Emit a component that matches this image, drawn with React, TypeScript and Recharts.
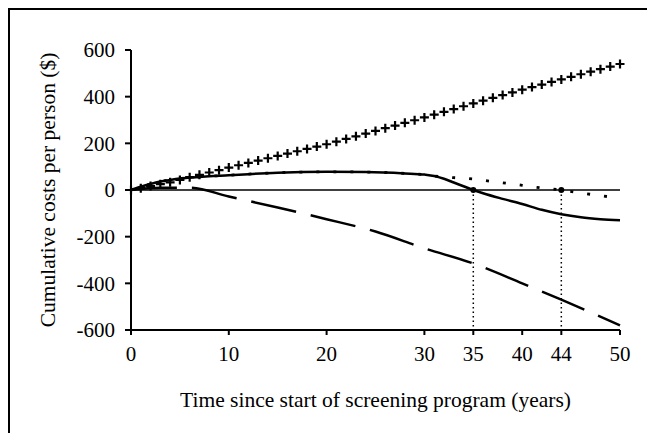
import React from "react";
import {
  Label,
  Line,
  LineChart,
  ReferenceDot,
  ReferenceLine,
  XAxis,
  YAxis,
} from "recharts";

// years since start of screening
const plusYears = [
  0, 1, 2, 3, 4, 5, 6, 7, 8, 9, 10, 11, 12, 13, 14, 15, 16, 17, 18, 19, 20, 21,
  22, 23, 24, 25, 26, 27, 28, 29, 30, 31, 32, 33, 34, 35, 36, 37, 38, 39, 40,
  41, 42, 43, 44, 45, 46, 47, 48, 49, 50,
];
const plusCosts = [
  0, 8, 17, 25, 33, 43, 55, 65, 75, 85, 96, 106, 116, 126, 136, 146, 156, 166,
  176, 186, 196, 207, 219, 230, 242, 253, 265, 276, 288, 299, 311, 323, 335,
  347, 359, 371, 383, 395, 407, 418, 430, 441, 452, 463, 474, 485, 496, 507,
  518, 529, 540,
];

const solidYears = [0, 1, 2, 3, 4, 5, 6, 8, 10, 12, 15, 20, 24, 28, 30, 31, 32, 33, 34, 35, 36, 38, 40, 42, 44, 46, 48, 50];
const solidCosts = [0, 14, 26, 36, 43, 49, 53, 59, 63, 68, 74, 78, 77, 71, 66, 60, 48, 32, 16, 0, -14, -38, -60, -85, -104, -117, -125, -130];

const dottedYears = [0, 1, 2, 3, 4, 5, 6, 8, 10, 12, 15, 20, 24, 28, 30, 31, 32, 33, 35, 37, 39, 41, 44, 46, 48, 50];
const dottedCosts = [0, 14, 26, 36, 43, 49, 53, 59, 63, 68, 74, 78, 77, 71, 66, 60, 56, 53, 47, 36, 26, 14, 0, -13, -24, -36];

const dashedYears = [0, 3, 6, 10, 15, 20, 25, 30, 35, 40, 44, 50];
const dashedCosts = [0, 10, 10, -28, -75, -125, -178, -250, -315, -400, -470, -580];

const xTicks = [0, 10, 20, 30, 35, 40, 44, 50];
const yTicks = [-600, -400, -200, 0, 200, 400, 600];
const breakEvenYears = [35, 44];

const rows = plusYears.map((year, i) => {
  const row: Record<string, number | null> = { year, plus: plusCosts[i], solid: null, dotted: null, dashed: null };
  const s = solidYears.indexOf(year);
  if (s >= 0) row.solid = solidCosts[s];
  const d = dottedYears.indexOf(year);
  if (d >= 0) row.dotted = dottedCosts[d];
  const k = dashedYears.indexOf(year);
  if (k >= 0) row.dashed = dashedCosts[k];
  return row;
});

const font = "'Liberation Serif', 'Times New Roman', serif";

const PlusMark = (props: any) => {
  const { cx, cy } = props;
  if (cx == null || cy == null) return <g key={props.key} />;
  return (
    <path
      key={props.key}
      d={`M${cx - 4.5},${cy}H${cx + 4.5}M${cx},${cy - 4.5}V${cy + 4.5}`}
      stroke="#000"
      strokeWidth={2.2}
    />
  );
};

export default function App() {
  return (
    <div style={{ position: "relative", width: 647, height: 425 }}>
      <LineChart
        width={647}
        height={425}
        data={rows}
        margin={{ top: 42, right: 35, left: 0, bottom: 0 }}
        style={{ fontFamily: font }}
      >
        <XAxis
          dataKey="year"
          type="number"
          domain={[0, 50]}
          ticks={xTicks}
          height={103}
          tickSize={5}
          tickMargin={11}
          stroke="#000"
          strokeWidth={2}
          tick={{ fill: "#000", fontSize: 21, fontFamily: font }}
        >
          <Label
            value="Time since start of screening program (years)"
            position="insideTop"
            offset={62}
            fill="#000"
            fontSize={21.5}
            fontFamily={font}
          />
        </XAxis>
        <XAxis
          xAxisId="top"
          orientation="top"
          type="number"
          domain={[0, 50]}
          height={0}
          tick={false}
          tickLine={false}
          stroke="#000"
          strokeWidth={2}
        />
        <YAxis
          type="number"
          domain={[-600, 600]}
          ticks={yTicks}
          width={123}
          tickSize={6}
          tickMargin={10}
          stroke="#000"
          strokeWidth={2}
          tick={{ fill: "#000", fontSize: 21, fontFamily: font }}
        >
          <Label
            value="Cumulative costs per person ($)"
            angle={-90}
            position="insideLeft"
            offset={39}
            fill="#000"
            fontSize={21.5}
            fontFamily={font}
            style={{ textAnchor: "middle" }}
          />
        </YAxis>
        <YAxis
          yAxisId="right"
          orientation="right"
          type="number"
          domain={[-600, 600]}
          width={0}
          tick={false}
          tickLine={false}
          stroke="#000"
          strokeWidth={2}
        />
        <ReferenceLine y={0} stroke="#000" strokeWidth={1.5} />
        {breakEvenYears.map((yr) => (
          <ReferenceLine
            key={yr}
            segment={[
              { x: yr, y: 0 },
              { x: yr, y: -600 },
            ]}
            stroke="#000"
            strokeWidth={1.5}
            strokeDasharray="1.5 3"
          />
        ))}
        <Line
          dataKey="dashed"
          type="monotone"
          connectNulls
          stroke="#000"
          strokeWidth={2.5}
          strokeDasharray="46 15"
          dot={false}
          isAnimationActive={false}
        />
        <Line
          dataKey="dotted"
          type="monotone"
          connectNulls
          stroke="#000"
          strokeWidth={2.8}
          strokeDasharray="3 14"
          dot={false}
          isAnimationActive={false}
        />
        <Line
          dataKey="solid"
          type="monotone"
          connectNulls
          stroke="#000"
          strokeWidth={2.5}
          dot={false}
          isAnimationActive={false}
        />
        <Line
          dataKey="plus"
          type="linear"
          stroke="none"
          dot={PlusMark}
          activeDot={false}
          isAnimationActive={false}
        />
        {breakEvenYears.map((yr) => (
          <ReferenceDot key={"d" + yr} x={yr} y={0} r={3} fill="#000" stroke="none" />
        ))}
      </LineChart>
      <div
        style={{
          position: "absolute",
          left: 0,
          top: 0,
          width: 647,
          height: 425,
          boxSizing: "border-box",
          borderTop: "2px solid #000",
          borderLeft: "2px solid #000",
          pointerEvents: "none",
        }}
      />
    </div>
  );
}
